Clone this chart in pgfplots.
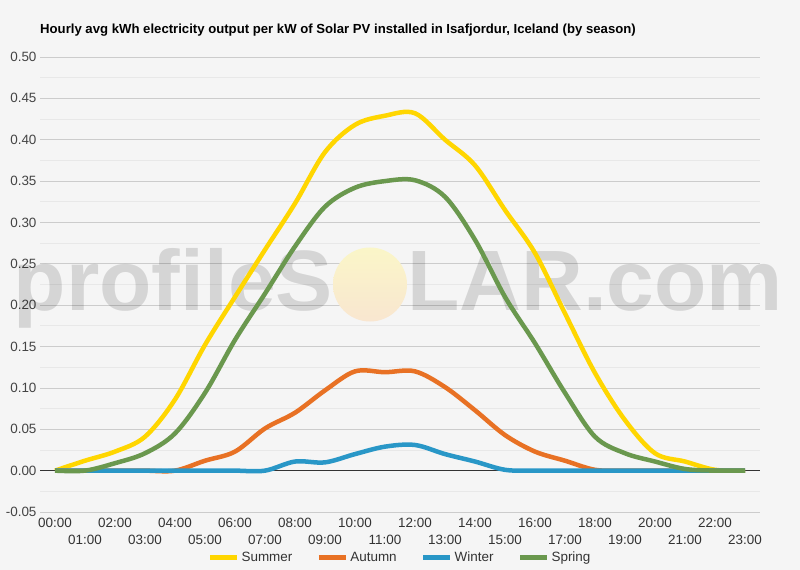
\documentclass[border=0pt]{standalone}
\usepackage{pgfplots}
\pgfplotsset{compat=1.18}
\usepackage{fontspec}
\setmainfont{Liberation Sans}

\definecolor{bgc}{RGB}{245,245,245}
\definecolor{summer}{RGB}{255,214,0}
\definecolor{autumn}{RGB}{232,113,36}
\definecolor{winter}{RGB}{41,151,199}
\definecolor{spring}{RGB}{106,152,78}
\definecolor{ticktext}{RGB}{68,68,68}

\begin{document}
\begin{tikzpicture}
\fill[bgc] (-40bp,-58bp) rectangle (760bp,512bp);
\begin{axis}[
    width=720bp, height=455bp, scale only axis,
    xmin=-0.5, xmax=23.5,
    ymin=-0.05, ymax=0.5,
    clip=false,
    axis line style={draw=none},
    major tick length=0pt, minor tick length=0pt,
    ytick={-0.05,0,0.05,0.10,0.15,0.20,0.25,0.30,0.35,0.40,0.45,0.50},
    minor y tick num=1,
    ymajorgrids, yminorgrids,
    major grid style={color=black!20, line width=0.8bp},
    minor grid style={color=black!9, line width=0.8bp},
    extra y ticks={0},
    extra y tick labels={},
    extra y tick style={major grid style={color=black!80, line width=0.9bp}},
    yticklabel style={/pgf/number format/fixed, /pgf/number format/fixed zerofill,
        /pgf/number format/precision=2, /pgf/number format/assume math mode=true,
        font=\fontsize{13.5}{16}\selectfont, text=ticktext},
    xtick={0,2,...,22},
    xticklabels={00:00,02:00,04:00,06:00,08:00,10:00,12:00,14:00,16:00,18:00,20:00,22:00},
    extra x ticks={1,3,...,23},
    extra x tick labels={01:00,03:00,05:00,07:00,09:00,11:00,13:00,15:00,17:00,19:00,21:00,23:00},
    extra x tick style={tick label style={yshift=-17bp}},
    xticklabel style={font=\fontsize{13.5}{16}\selectfont, text=black!80, yshift=-2.5bp},
    title={Hourly avg kWh electricity output per kW of Solar PV installed in Isafjordur, Iceland (by season)},
    title style={at={(0,1)}, anchor=base west, yshift=18bp, inner sep=0pt,
        font=\bfseries\fontsize{13.2}{15}\selectfont},
    legend columns=-1,
    legend style={draw=none, fill=none, at={(0.5,-0.1)}, anchor=center,
        font=\fontsize{13.5}{16}\selectfont, text=black!80,
        /tikz/every even column/.append style={column sep=22bp}},
    legend image code/.code={\draw[#1, line width=5bp] (0bp,0bp) -- (27bp,0bp);},
    every axis plot/.append style={line width=4.5bp, smooth, tension=0.55, no markers},
]
% watermark
\node[anchor=base east, text=black, opacity=0.13, font=\bfseries\fontsize{86}{90}\selectfont, inner sep=0pt]
    at (axis cs:9.27,0.194) {profileS};
\node[anchor=base west, text=black, opacity=0.13, font=\bfseries\fontsize{86}{90}\selectfont, inner sep=0pt]
    at (axis cs:11.73,0.194) {LAR.com};
\shade[top color={rgb,255:red,250;green,246;blue,200}, bottom color={rgb,255:red,249;green,230;blue,208}]
    (axis cs:10.5,0.225) circle[radius=37bp];

\addplot[color=summer] coordinates {
(0,0) (1,0.012) (2,0.023) (3,0.041) (4,0.086) (5,0.152) (6,0.21) (7,0.267)
(8,0.323) (9,0.385) (10,0.418) (11,0.429) (12,0.432) (13,0.40) (14,0.369)
(15,0.315) (16,0.263) (17,0.19) (18,0.118) (19,0.061) (20,0.021) (21,0.011)
(22,0.001) (23,0)};
\addplot[color=autumn] coordinates {
(0,0) (1,0) (2,0) (3,0) (4,0) (5,0.012) (6,0.023) (7,0.051) (8,0.07)
(9,0.097) (10,0.12) (11,0.119) (12,0.12) (13,0.101) (14,0.073) (15,0.043)
(16,0.023) (17,0.012) (18,0.001) (19,0) (20,0) (21,0) (22,0) (23,0)};
\addplot[color=winter] coordinates {
(0,0) (1,0) (2,0) (3,0) (4,0) (5,0) (6,0) (7,0) (8,0.011) (9,0.010)
(10,0.02) (11,0.029) (12,0.031) (13,0.02) (14,0.011) (15,0.001) (16,0)
(17,0) (18,0) (19,0) (20,0) (21,0) (22,0) (23,0)};
\addplot[color=spring] coordinates {
(0,0) (1,0) (2,0.009) (3,0.021) (4,0.045) (5,0.094) (6,0.158) (7,0.214)
(8,0.271) (9,0.319) (10,0.342) (11,0.350) (12,0.351) (13,0.331) (14,0.279)
(15,0.21) (16,0.154) (17,0.094) (18,0.041) (19,0.021) (20,0.011) (21,0.002)
(22,0) (23,0)};
\legend{Summer, Autumn, Winter, Spring}
\end{axis}
\end{tikzpicture}
\end{document}
